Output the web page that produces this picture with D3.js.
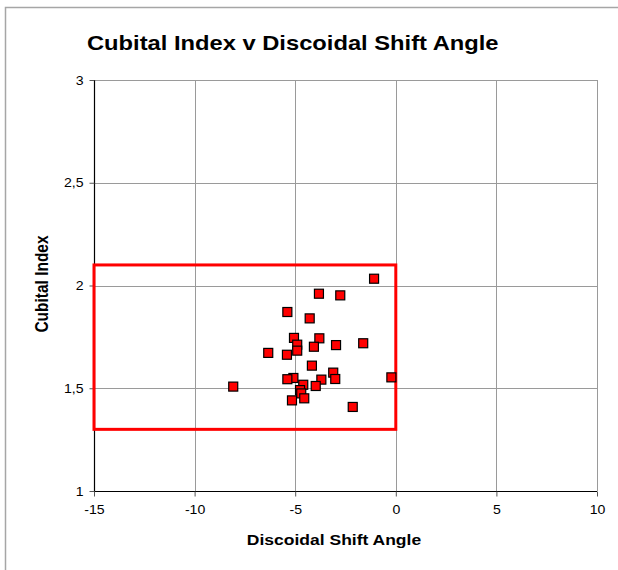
<!DOCTYPE html>
<html><head><meta charset="utf-8">
<script src="https://cdn.jsdelivr.net/npm/d3@7"></script>
<style>body{margin:0;background:#fff}svg{display:block}</style>
</head><body>
<svg id="c" width="618" height="570"></svg>
<script>
const xTicks = [-15, -10, -5, 0, 5, 10];
const xTickLabels = ["-15", "-10", "-5", "0", "5", "10"];
const yTicks = [1, 1.5, 2, 2.5, 3];
const yTickLabels = ["1", "1,5", "2", "2,5", "3"];
const shiftAngle = [-1.08, -3.82, -2.76, -5.39, -4.28, -5.06, -3.80, -4.90, -4.07, -2.97, -1.62, -4.90, -6.34, -5.41, -4.17, -3.11, -5.09, -5.39, -3.70, -3.01, -0.22, -4.60, -3.98, -8.08, -4.76, -4.70, -4.55, -5.16, -2.14];
const cubitalIndex = [2.033, 1.960, 1.952, 1.871, 1.840, 1.745, 1.743, 1.712, 1.702, 1.710, 1.719, 1.683, 1.672, 1.663, 1.610, 1.576, 1.550, 1.544, 1.542, 1.545, 1.553, 1.517, 1.511, 1.508, 1.491, 1.475, 1.451, 1.441, 1.409];
const boxX = [-15, 0];
const boxY = [1.3, 2.1];

const FONT = "'Liberation Sans', Arial, sans-serif";
const SX = 1.13; // horizontal stretch of the text in the reference

const svg = d3.select("#c");
const x = d3.scaleLinear().domain([-15, 10]).range([94, 597]);
const y = d3.scaleLinear().domain([1, 3]).range([491, 80]);

// outer frame
svg.append("path").attr("d", "M5.5,570 V7.5 H618").attr("fill", "none").attr("stroke", "#a6a6a6").attr("stroke-width", 1.5);

// gridlines
const g = svg.append("g");
g.selectAll(".gx").data(xTicks.slice(1)).join("line")
  .attr("x1", d => Math.round(x(d)) + 0.5).attr("x2", d => Math.round(x(d)) + 0.5)
  .attr("y1", y(3)).attr("y2", y(1)).attr("stroke", "#9a9a9a").attr("stroke-width", 1);
g.selectAll(".gy").data(yTicks.slice(1)).join("line")
  .attr("y1", d => Math.round(y(d)) + 0.5).attr("y2", d => Math.round(y(d)) + 0.5)
  .attr("x1", x(-15)).attr("x2", x(10)).attr("stroke", "#9a9a9a").attr("stroke-width", 1);

// axes
const xAxis = d3.axisBottom(x).tickValues(xTicks).tickSize(5).tickPadding(9).tickFormat((d, i) => xTickLabels[i]);
const yAxis = d3.axisLeft(y).tickValues(yTicks).tickSize(5).tickPadding(6).tickFormat((d, i) => yTickLabels[i]);
const gx = svg.append("g").attr("transform", `translate(0,${Math.round(y(1)) + 0.5})`).call(xAxis);
const gy = svg.append("g").attr("transform", `translate(${Math.round(x(-15)) + 0.5},0)`).call(yAxis);
[gx, gy].forEach(a => {
  a.select(".domain").attr("stroke", "#000").attr("stroke-width", 1.2);
  a.selectAll(".tick line").attr("stroke", "#555");
  a.selectAll("text").attr("font-family", FONT).attr("font-size", 12.5).attr("fill", "#000");
});
gy.select(".domain").attr("d", `M0,${y(3)}V${y(1)}`);
gx.select(".domain").attr("d", `M${x(-15)},0H${x(10)}`);
gx.selectAll(".tick text").attr("transform", `scale(${SX},1)`);
gy.selectAll(".tick text").attr("x", -11 / SX).attr("transform", `scale(${SX},1)`);

// red box
svg.append("rect")
  .attr("x", x(boxX[0])).attr("y", y(boxY[1]))
  .attr("width", x(boxX[1]) - x(boxX[0])).attr("height", y(boxY[0]) - y(boxY[1]))
  .attr("fill", "none").attr("stroke", "#ff0000").attr("stroke-width", 3);

// points
const s = 9;
svg.append("g").selectAll("rect").data(shiftAngle.map((d, i) => [d, cubitalIndex[i]])).join("rect")
  .attr("x", d => x(d[0]) - s / 2).attr("y", d => y(d[1]) - s / 2)
  .attr("width", s).attr("height", s)
  .attr("fill", "#ff0000").attr("stroke", "#000").attr("stroke-width", 1.2);

// titles
svg.append("text").attr("transform", `translate(87,50) scale(${SX},1)`).text("Cubital Index v Discoidal Shift Angle")
  .attr("font-family", FONT).attr("font-weight", "bold").attr("font-size", 21);
svg.append("text").attr("transform", `translate(334,545) scale(${SX},1)`).attr("text-anchor", "middle").text("Discoidal Shift Angle")
  .attr("font-family", FONT).attr("font-weight", "bold").attr("font-size", 15.5);
svg.append("text").attr("transform", `translate(48,284) scale(${SX},1) rotate(-90)`).attr("text-anchor", "middle").text("Cubital Index")
  .attr("font-family", FONT).attr("font-weight", "bold").attr("font-size", 15.5);
</script>
</body></html>
